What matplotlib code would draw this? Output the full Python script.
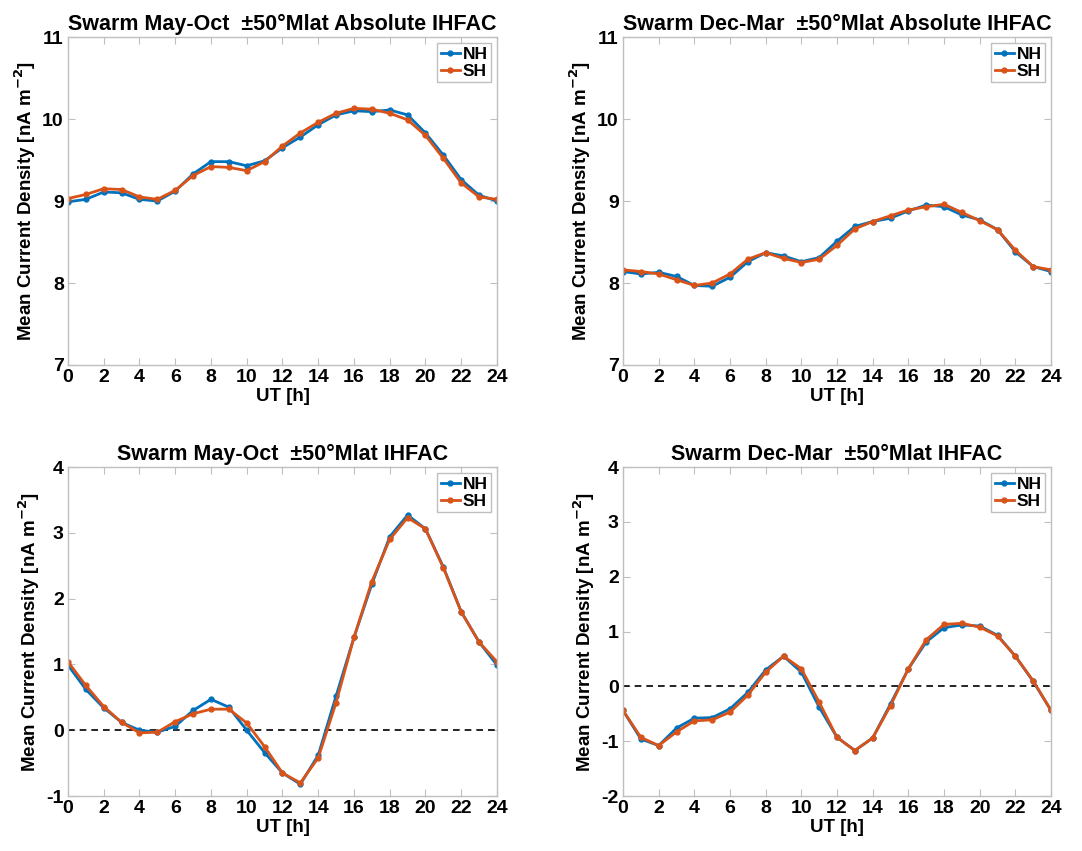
import matplotlib
matplotlib.use("Agg")
import matplotlib.pyplot as plt
import numpy as np

plt.rcParams['font.family'] = ['Liberation Sans', 'DejaVu Sans']
plt.rcParams['font.weight'] = 'bold'
plt.rcParams['mathtext.default'] = 'bf'
plt.rcParams['axes.unicode_minus'] = False

ut = np.arange(0, 25)

# absolute IHFAC, May-Oct
abs_mo_nh = [8.99, 9.02, 9.11, 9.10, 9.02, 9.00, 9.12, 9.33, 9.48, 9.48, 9.43, 9.49, 9.65,
             9.78, 9.93, 10.05, 10.10, 10.09, 10.11, 10.05, 9.83, 9.56, 9.26, 9.07, 9.00]
abs_mo_sh = [9.03, 9.08, 9.15, 9.14, 9.05, 9.02, 9.13, 9.31, 9.42, 9.41, 9.37, 9.48, 9.67,
             9.83, 9.96, 10.07, 10.13, 10.12, 10.07, 9.99, 9.80, 9.52, 9.22, 9.05, 9.02]

# absolute IHFAC, Dec-Mar
abs_dm_nh = [8.14, 8.11, 8.13, 8.08, 7.97, 7.96, 8.07, 8.26, 8.37, 8.33, 8.26, 8.31, 8.51,
             8.69, 8.75, 8.79, 8.88, 8.95, 8.93, 8.83, 8.77, 8.65, 8.38, 8.20, 8.14]
abs_dm_sh = [8.16, 8.14, 8.11, 8.04, 7.97, 8.00, 8.11, 8.29, 8.37, 8.30, 8.25, 8.29, 8.46,
             8.66, 8.75, 8.82, 8.89, 8.93, 8.96, 8.86, 8.76, 8.65, 8.40, 8.20, 8.16]

# IHFAC, May-Oct
mo_nh = [0.99, 0.62, 0.34, 0.12, 0.00, -0.03, 0.06, 0.30, 0.47, 0.35, 0.00, -0.34, -0.65,
         -0.82, -0.38, 0.52, 1.41, 2.22, 2.94, 3.27, 3.06, 2.48, 1.80, 1.34, 0.99]
mo_sh = [1.04, 0.68, 0.36, 0.12, -0.04, -0.03, 0.13, 0.25, 0.32, 0.32, 0.11, -0.25, -0.65,
         -0.80, -0.42, 0.42, 1.41, 2.26, 2.90, 3.23, 3.06, 2.47, 1.80, 1.34, 1.04]

# IHFAC, Dec-Mar
dm_nh = [-0.44, -0.96, -1.08, -0.76, -0.58, -0.57, -0.41, -0.11, 0.30, 0.55, 0.26, -0.38, -0.93,
         -1.17, -0.94, -0.32, 0.32, 0.81, 1.07, 1.12, 1.10, 0.93, 0.55, 0.09, -0.44]
dm_sh = [-0.44, -0.93, -1.08, -0.83, -0.63, -0.61, -0.47, -0.16, 0.26, 0.55, 0.32, -0.29, -0.93,
         -1.17, -0.94, -0.35, 0.32, 0.85, 1.13, 1.15, 1.08, 0.92, 0.55, 0.10, -0.44]

nh_color = '#0072BD'
sh_color = '#D95319'

# position, NH, SH, title, title weight, ylim, yticks, zero line
panels = [
    ([0.0628, 0.5711, 0.3965, 0.3854], abs_mo_nh, abs_mo_sh,
     'Swarm May-Oct  \u00b150\u00b0Mlat Absolute IHFAC', 'bold', (7, 11), range(7, 12), False),
    ([0.5758, 0.5711, 0.3956, 0.3854], abs_dm_nh, abs_dm_sh,
     'Swarm Dec-Mar  \u00b150\u00b0Mlat Absolute IHFAC', 'bold', (7, 11), range(7, 12), False),
    ([0.0628, 0.0646, 0.3965, 0.3866], mo_nh, mo_sh,
     'Swarm May-Oct  \u00b150\u00b0Mlat IHFAC', 'bold', (-1, 4), range(-1, 5), True),
    ([0.5758, 0.0646, 0.3956, 0.3866], dm_nh, dm_sh,
     'Swarm Dec-Mar  \u00b150\u00b0Mlat IHFAC', 'semibold', (-2, 4), range(-2, 5), True),
]

fig = plt.figure(figsize=(10.82, 8.51), dpi=100)

for pos, nh, sh, title, tweight, ylim, yticks, zero_line in panels:
    ax = fig.add_axes(pos)
    if zero_line:
        ax.axhline(0, color='black', linestyle='--', linewidth=1.2, dashes=(4, 3))
    ax.plot(ut, nh, color=nh_color, marker='.', markersize=7, linewidth=2, label='NH')
    ax.plot(ut, sh, color=sh_color, marker='.', markersize=7, linewidth=2, label='SH')
    ax.set_xlim(0, 24)
    ax.set_ylim(*ylim)
    ax.set_xticks(range(0, 25, 2))
    ax.set_yticks(list(yticks))
    ax.tick_params(direction='in', top=True, right=True, labelsize=14,
                   length=5, width=0.8, color='#bfbfbf', pad=3)
    for s in ax.spines.values():
        s.set_color('#bfbfbf')
        s.set_linewidth(1.0)
    ax.set_title(title, fontsize=15.5, fontweight=tweight, pad=5)
    ax.set_xlabel('UT [h]', fontsize=13.5, fontweight='bold', labelpad=1)
    ax.set_ylabel('Mean Current Density [nA m$^{-2}$]', fontsize=13.5, fontweight='bold', labelpad=3)
    leg = ax.legend(loc='upper right', fontsize=12.5, fancybox=False, framealpha=1,
                    edgecolor='#bfbfbf', handlelength=1.1, handletextpad=0.15,
                    borderpad=0.2, labelspacing=0.1, borderaxespad=0.35)
    leg.get_frame().set_linewidth(1.0)

fig.savefig('out.png', dpi=100)
